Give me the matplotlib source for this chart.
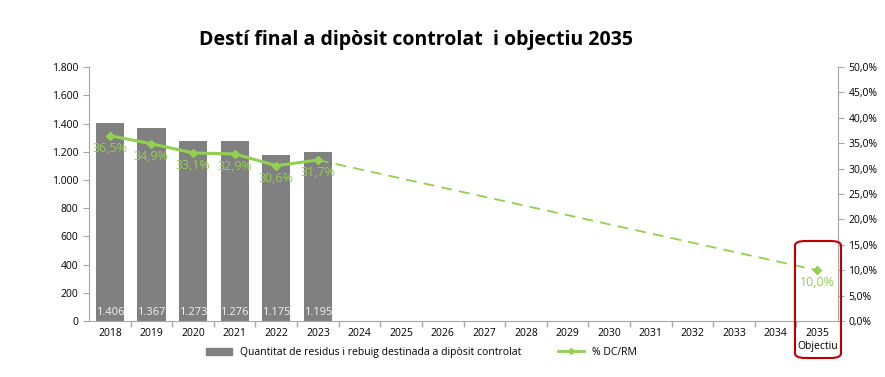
import matplotlib.pyplot as plt
from matplotlib.patches import FancyBboxPatch
from matplotlib.lines import Line2D
from matplotlib.patches import Patch

# dades
anys = ['2018', '2019', '2020', '2021', '2022', '2023', '2024', '2025', '2026',
        '2027', '2028', '2029', '2030', '2031', '2032', '2033', '2034', '2035\nObjectiu']
tones = [1406, 1367, 1273, 1276, 1175, 1195]
tones_labels = ['1.406', '1.367', '1.273', '1.276', '1.175', '1.195']
pct = [36.5, 34.9, 33.1, 32.9, 30.6, 31.7]
pct_objectiu = 10.0

verd = '#92d050'
gris = '#808080'
eix = '#a6a6a6'

plt.rcParams['font.family'] = ['Open Sans', 'DejaVu Sans']

fig = plt.figure(figsize=(8.85, 3.77), dpi=100)
ax = fig.add_axes([0.1006, 0.1485, 0.8464, 0.6735])
x = list(range(len(anys)))

ax.bar(x[:len(tones)], tones, width=0.68, color=gris, zorder=2)
for i, t in enumerate(tones_labels):
    ax.text(i, 20, t, ha='center', va='bottom', color='#f2f2f2', fontsize=8)

ax.set_ylim(0, 1800)
ax.set_yticks(range(0, 1801, 200))
ax.set_yticklabels(['0', '200', '400', '600', '800', '1.000', '1.200', '1.400', '1.600', '1.800'])
ax.set_xlim(-0.5, len(anys) - 0.5)
ax.set_xticks(x)
ax.set_xticklabels(anys)
ax.set_xticks([i + 0.5 for i in x[:-1]], minor=True)
ax.tick_params(axis='x', which='major', length=0, labelsize=7.5, pad=5)
ax.tick_params(axis='x', which='minor', length=4, width=1, color=eix)
ax.tick_params(axis='y', length=4, color=eix, labelsize=7.5)
for s in ['top', 'right']:
    ax.spines[s].set_visible(False)
ax.spines['left'].set_color(eix)
ax.spines['bottom'].set_color(eix)

ax2 = ax.twinx()
ax2.set_ylim(0, 50)
ax2.set_yticks([i * 5 for i in range(11)])
ax2.set_yticklabels([('%.1f%%' % (i * 5)).replace('.', ',') for i in range(11)])
ax2.tick_params(axis='y', length=4, color=eix, labelsize=7.5)
for s in ['top', 'left', 'bottom']:
    ax2.spines[s].set_visible(False)
ax2.spines['right'].set_color(eix)

ax2.plot(x[:len(pct)], pct, color=verd, lw=2.2, marker='D', ms=4, zorder=4)
ax2.plot([len(pct) - 1, len(anys) - 1], [pct[-1], pct_objectiu], color=verd,
         lw=1.3, ls=(0, (6, 4)), zorder=3)
ax2.plot([len(anys) - 1], [pct_objectiu], color=verd, marker='D', ms=4, ls='none')
for i, p in enumerate(pct):
    ax2.text(i, p - 1.2, ('%.1f%%' % p).replace('.', ','), ha='center', va='top',
             color=verd, fontsize=9)
ax2.text(len(anys) - 1, pct_objectiu - 1.2, ('%.1f%%' % pct_objectiu).replace('.', ','),
         ha='center', va='top', color=verd, fontsize=9)

# requadre objectiu
caixa = FancyBboxPatch((795 / 885, 1 - 358 / 377), 46 / 885, 117 / 377,
                       boxstyle='round,pad=0,rounding_size=0.012',
                       transform=fig.transFigure, fill=False, ec='#c00000', lw=1.5)
fig.patches.append(caixa)

fig.text(0.47, 0.895, 'Destí final a dipòsit controlat  i objectiu 2035',
         ha='center', va='center', fontsize=14, fontweight='bold')

handles = [Patch(color=gris, label='Quantitat de residus i rebuig destinada a dipòsit controlat'),
           Line2D([], [], color=verd, lw=2, marker='D', ms=3, label='% DC/RM')]
fig.legend(handles=handles, loc='center', bbox_to_anchor=(0.476, 0.065), ncol=2,
           frameon=False, fontsize=7.5, handlelength=2.5, columnspacing=3.5)

fig.savefig('out.png', dpi=100)
